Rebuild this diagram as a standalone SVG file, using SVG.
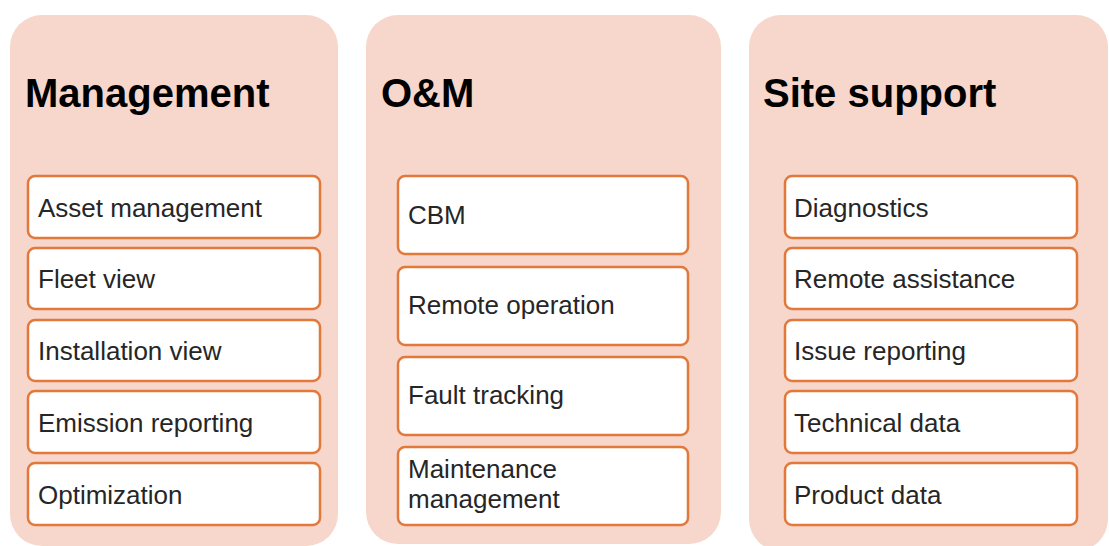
<svg xmlns="http://www.w3.org/2000/svg" width="1109" height="546" viewBox="0 0 1109 546">
<style>
.panel{fill:#F7D6CC;stroke:none}
.box{fill:#FFFFFF;stroke:#E2793A;stroke-width:2.5}
.title{font-family:"Liberation Sans",Arial,sans-serif;font-weight:bold;font-size:40px;fill:#000000}
.item{font-family:"Liberation Sans",Arial,sans-serif;font-size:26px;fill:#262626}
</style>
<rect width="1109" height="546" fill="#FFFFFF"/>
<g id="panel-management">
<rect class="panel" x="10" y="15" width="328" height="531" rx="32"/>
<text class="title" x="25" y="107">Management</text>
</g>
<g id="panel-om">
<rect class="panel" x="366" y="15" width="355" height="529" rx="32"/>
<text class="title" x="381" y="107">O&amp;M</text>
</g>
<g id="panel-site">
<rect class="panel" x="749" y="15" width="359" height="536" rx="32"/>
<text class="title" x="763" y="107">Site support</text>
</g>
<g id="asset-management"><rect class="box" x="28" y="176" width="292" height="62" rx="7"/><text class="item" x="38" y="217">Asset management</text></g>
<g id="fleet-view"><rect class="box" x="28" y="248" width="292" height="61" rx="7"/><text class="item" x="38" y="288">Fleet view</text></g>
<g id="installation-view"><rect class="box" x="28" y="320" width="292" height="61" rx="7"/><text class="item" x="38" y="360">Installation view</text></g>
<g id="emission-reporting"><rect class="box" x="28" y="391" width="292" height="62" rx="7"/><text class="item" x="38" y="432">Emission reporting</text></g>
<g id="optimization"><rect class="box" x="28" y="463" width="292" height="62" rx="7"/><text class="item" x="38" y="504">Optimization</text></g>
<g id="cbm"><rect class="box" x="398" y="176" width="290" height="78" rx="7"/><text class="item" x="408" y="224">CBM</text></g>
<g id="remote-operation"><rect class="box" x="398" y="267" width="290" height="78" rx="7"/><text class="item" x="408" y="314">Remote operation</text></g>
<g id="fault-tracking"><rect class="box" x="398" y="357" width="290" height="78" rx="7"/><text class="item" x="408" y="404">Fault tracking</text></g>
<g id="maintenance-management"><rect class="box" x="398" y="447" width="290" height="78" rx="7"/><text class="item" x="408" y="478">Maintenance</text><text class="item" x="408" y="508">management</text></g>
<g id="diagnostics"><rect class="box" x="785" y="176" width="292" height="62" rx="7"/><text class="item" x="794" y="217">Diagnostics</text></g>
<g id="remote-assistance"><rect class="box" x="785" y="248" width="292" height="61" rx="7"/><text class="item" x="794" y="288">Remote assistance</text></g>
<g id="issue-reporting"><rect class="box" x="785" y="320" width="292" height="61" rx="7"/><text class="item" x="794" y="360">Issue reporting</text></g>
<g id="technical-data"><rect class="box" x="785" y="391" width="292" height="62" rx="7"/><text class="item" x="794" y="432">Technical data</text></g>
<g id="product-data"><rect class="box" x="785" y="463" width="292" height="62" rx="7"/><text class="item" x="794" y="504">Product data</text></g>
<g id="connectors"></g>
</svg>
